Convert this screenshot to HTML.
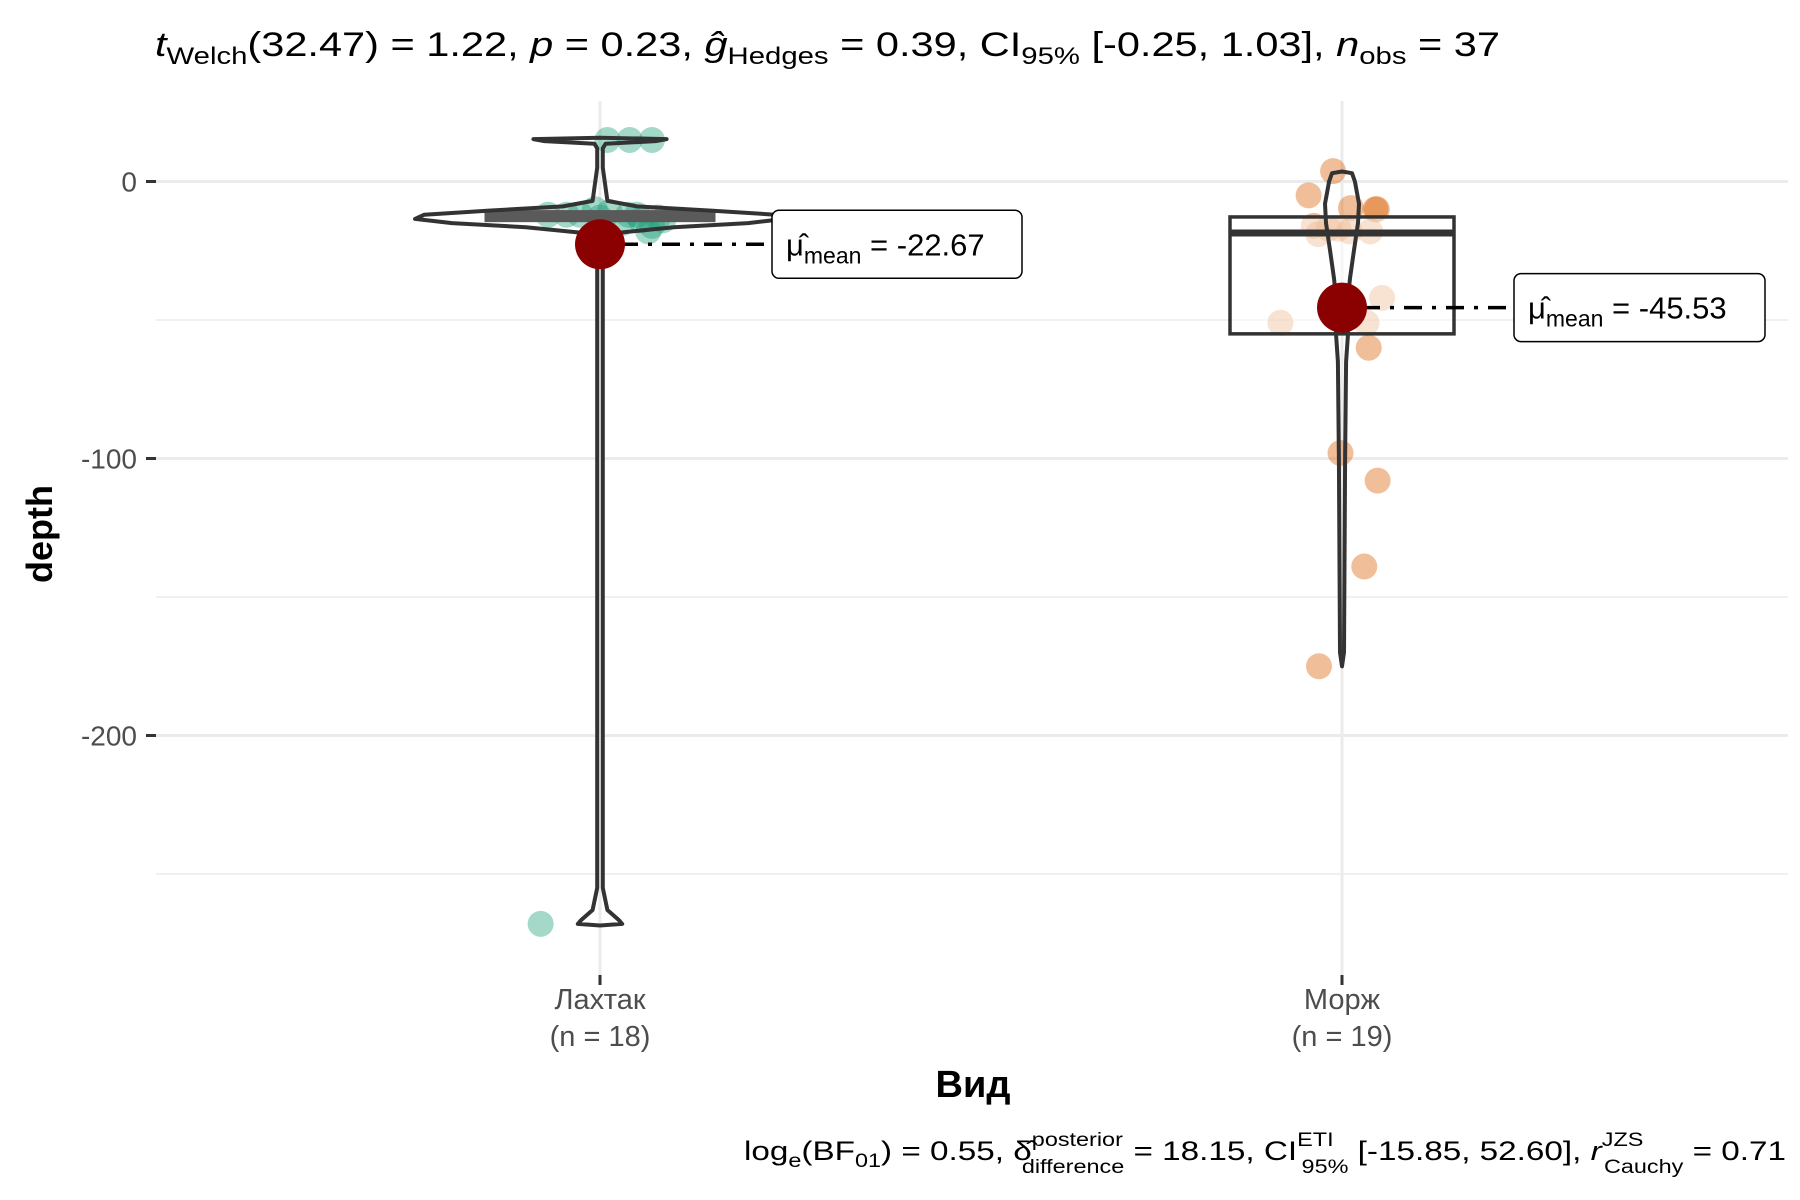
<!DOCTYPE html>
<html><head><meta charset="utf-8">
<style>
html,body{margin:0;padding:0;background:#fff;}
svg{display:block;font-family:"Liberation Sans",Arial,sans-serif;}
</style></head>
<body>
<svg id="chart" width="1800" height="1200" viewBox="0 0 1800 1200" xmlns="http://www.w3.org/2000/svg">
<rect width="1800" height="1200" fill="#fff"/>
<g id="grid"></g>
<g id="points"></g>
<g id="boxes"></g>
<g id="violins"></g>
<g id="means"></g>
<g id="axes"></g>

<text x="155" y="56" font-size="34" fill="#000" textLength="1345" lengthAdjust="spacingAndGlyphs"><tspan font-style="italic">t</tspan><tspan font-size="24" dy="8">Welch</tspan><tspan dy="-8">(32.47) = 1.22, </tspan><tspan font-style="italic">p</tspan><tspan> = 0.23, </tspan><tspan font-style="italic">ĝ</tspan><tspan font-size="24" dy="8">Hedges</tspan><tspan dy="-8"> = 0.39, CI</tspan><tspan font-size="24" dy="8">95%</tspan><tspan dy="-8"> [-0.25, 1.03], </tspan><tspan font-style="italic">n</tspan><tspan font-size="24" dy="8">obs</tspan><tspan dy="-8"> = 37</tspan></text>

<text transform="translate(52,534) rotate(-90)" text-anchor="middle" font-size="36" font-weight="bold" fill="#000">depth</text>
<text x="973" y="1097" text-anchor="middle" font-size="38" font-weight="bold" fill="#000">Вид</text>

<text x="1786" y="1160" text-anchor="end" font-size="27" fill="#000" textLength="1042" lengthAdjust="spacingAndGlyphs"><tspan>log</tspan><tspan font-size="19" dy="7">e</tspan><tspan dy="-7">(BF</tspan><tspan font-size="19" dy="7">01</tspan><tspan dy="-7">) = 0.55, δ̂</tspan><tspan font-size="19" dy="-14">posterior</tspan><tspan font-size="19" dx="-82" dy="27">difference</tspan><tspan dy="-13"> = 18.15, CI</tspan><tspan font-size="19" dy="-14">ETI</tspan><tspan font-size="19" dx="-26" dy="27">95%</tspan><tspan dy="-13"> [-15.85, 52.60], </tspan><tspan font-style="italic">r</tspan><tspan font-size="19" dy="-14">JZS</tspan><tspan font-size="19" dx="-32" dy="27">Cauchy</tspan><tspan dy="-13"> = 0.71</tspan></text>

<script>
// ---- data ----
const categories = ["Лахтак", "Морж"];
const groupCounts = [18, 19];
const yTicks = [0, -100, -200];
const yTickLabels = ["0", "-100", "-200"];
const yMinorTicks = [-50, -150, -250];
const lakhtakValues = [15, 15, 15, -268, -12, -12, -10, -11, -12, -12, -13, -14, -18, -16, -13, -12, -15, -14];
const lakhtakJitter = [0.01, 0.04, 0.07, -0.08, -0.07, -0.045, -0.007, 0.013, 0.038, 0.05, 0.078, 0.085, 0.065, 0.07, 0.0, -0.027, 0.03, 0.055];
const morzhValues = [3.75, -5, -9.6, -10, -10, -16, -19, -17, -18, -18, -42, -51, -51, -60, -98, -108, -139, -175, -17];
const morzhJitter = [-0.012, -0.045, 0.012, 0.045, 0.047, -0.038, -0.032, -0.018, 0.038, 0.01, 0.054, -0.083, 0.033, 0.036, -0.002, 0.048, 0.03, -0.031, -0.005];
const means = [-22.67, -45.53];
const meanLabels = ["-22.67", "-45.53"];
const boxQ1 = [-14.5, -55];
const boxMedian = [-12.5, -18.6];
const boxQ3 = [-10.5, -12.8];
const lakhtakViolinDepth = [15.8, 15.3, 14.6, 13.6, 12, 5, -7, -9, -10.5, -12, -13.5, -15, -16.5, -18.5, -22, -30, -255, -263, -266.5, -268, -268.6];
const lakhtakViolinDensity = [0, 0.36, 0.3, 0.03, 0.015, 0.015, 0.04, 0.2, 0.6, 0.95, 1.0, 0.8, 0.4, 0.1, 0.03, 0.015, 0.015, 0.04, 0.1, 0.12, 0];
const morzhViolinDepth = [3.6, 3, 0, -8, -15, -25, -35, -45, -55, -65, -100, -170, -175];
const morzhViolinDensity = [0, 0.59, 0.76, 1.0, 0.94, 0.7, 0.47, 0.3, 0.35, 0.24, 0.18, 0.12, 0];

// ---- scales ----
const panelL = 156, panelR = 1788, panelT = 101, panelB = 975;
const xCenters = [600, 1342];
const catSpacing = xCenters[1] - xCenters[0];
function y(v){ return 181.5 - v * 2.77; }
function x(i, j){ return xCenters[i] + (j || 0) * catSpacing; }

const NS = "http://www.w3.org/2000/svg";
function mk(tag, attrs, parent){
  const e = document.createElementNS(NS, tag);
  for (const k in attrs) e.setAttribute(k, attrs[k]);
  parent.appendChild(e);
  return e;
}
const grid = document.getElementById('grid');
const pts = document.getElementById('points');
const boxes = document.getElementById('boxes');
const vio = document.getElementById('violins');
const meansG = document.getElementById('means');
const axes = document.getElementById('axes');

// grid
yMinorTicks.forEach(v => {
  const l = mk('line', {x1: panelL, x2: panelR, y1: y(v), y2: y(v), stroke: '#ebebeb', 'stroke-width': 1.5}, grid);
  
  
});
yTicks.forEach((v, i) => {
  const l = mk('line', {x1: panelL, x2: panelR, y1: y(v), y2: y(v), stroke: '#ebebeb', 'stroke-width': 3}, grid);
  
  
  const t = mk('line', {x1: 146, x2: 156, y1: y(v), y2: y(v), stroke: '#333', 'stroke-width': 3}, axes);
  
  
  const tx = mk('text', {x: 137, y: y(v) + 10, 'text-anchor': 'end', 'font-size': 28, fill: '#4d4d4d'}, axes);
  tx.textContent = yTickLabels[i];
  
  
});
categories.forEach((c, i) => {
  const l = mk('line', {x1: x(i), x2: x(i), y1: panelT, y2: panelB, stroke: '#ebebeb', 'stroke-width': 3}, grid);
  
  
  const t = mk('line', {x1: x(i), x2: x(i), y1: panelB, y2: panelB + 10, stroke: '#333', 'stroke-width': 3}, axes);
  
  
  const t1 = mk('text', {x: x(i), y: 1009, 'text-anchor': 'middle', 'font-size': 29, fill: '#4d4d4d'}, axes);
  t1.textContent = c;
  
  
  const t2 = mk('text', {x: x(i), y: 1046, 'text-anchor': 'middle', 'font-size': 29, fill: '#4d4d4d'}, axes);
  t2.textContent = '(n = ' + groupCounts[i] + ')';
  
  
});

// points
function drawPoints(vals, jit, gi, color){
  vals.forEach((v, k) => {
    const c = mk('circle', {cx: x(gi, jit[k]), cy: y(v), r: 13, fill: color, 'fill-opacity': 0.4}, pts);
    
    
  });
}
drawPoints(lakhtakValues, lakhtakJitter, 0, '#1B9E77');
drawPoints(morzhValues, morzhJitter, 1, '#D95F02');

// boxes
const boxHalf = [115, 112];
categories.forEach((c, i) => {
  if (i === 0) {
    const r = mk('rect', {x: x(i) - boxHalf[i], y: y(boxQ3[i]), width: boxHalf[i] * 2, height: y(boxQ1[i]) - y(boxQ3[i]), fill: '#5a5a5a', stroke: '#5a5a5a', 'stroke-width': 1}, boxes);
    
    
  } else {
    const r = mk('rect', {x: x(i) - boxHalf[i], y: y(boxQ3[i]), width: boxHalf[i] * 2, height: y(boxQ1[i]) - y(boxQ3[i]), fill: '#fff', 'fill-opacity': 0.55, stroke: '#333', 'stroke-width': 3.5}, boxes);
    
    
    const m = mk('line', {x1: x(i) - boxHalf[i], x2: x(i) + boxHalf[i], y1: y(boxMedian[i]), y2: y(boxMedian[i]), stroke: '#333', 'stroke-width': 7}, boxes);
    
    
  }
});

// violins
function drawViolin(depths, dens, gi, maxHalf, name){
  let right = [], left = [];
  depths.forEach((d, k) => {
    const w = Math.max(dens[k] * maxHalf, dens[k] > 0 ? 1.5 : 0);
    right.push((x(gi) + w).toFixed(1) + ',' + y(d).toFixed(1));
    left.unshift((x(gi) - w).toFixed(1) + ',' + y(d).toFixed(1));
  });
  const p = mk('path', {d: 'M' + right.join(' L') + ' L' + left.join(' L') + 'Z', fill: 'none', stroke: '#333', 'stroke-width': 4, 'stroke-linejoin': 'round'}, vio);
  
  
}
drawViolin(lakhtakViolinDepth, lakhtakViolinDensity, 0, 185, 'violin-lakhtak');
drawViolin(morzhViolinDepth, morzhViolinDensity, 1, 17, 'violin-morzh');

// means
const labelLeft = [772, 1514];
const labelW = [250, 251];
categories.forEach((c, i) => {
  const my = y(means[i]);
  const ln = mk('line', {x1: x(i) + 20, x2: labelLeft[i], y1: my, y2: my, stroke: '#000', 'stroke-width': 3.5, 'stroke-dasharray': '18 10 4 10'}, meansG);
  
  
  const pt = mk('circle', {cx: x(i), cy: my, r: 25, fill: '#8B0000'}, meansG);
  
  
  const bx = mk('rect', {x: labelLeft[i], y: my - 34, width: labelW[i], height: 68, rx: 7, fill: '#fff', stroke: '#000', 'stroke-width': 1.5}, meansG);
  
  
  const t = mk('text', {x: labelLeft[i] + 14, y: my + 11, 'font-size': 31, fill: '#000'}, meansG);
  
  
  const a = document.createElementNS(NS, 'tspan'); a.textContent = 'μ̂'; t.appendChild(a);
  const b = document.createElementNS(NS, 'tspan'); b.setAttribute('font-size', '23'); b.setAttribute('dy', '8'); b.textContent = 'mean'; t.appendChild(b);
  const d = document.createElementNS(NS, 'tspan'); d.setAttribute('dy', '-8'); d.textContent = ' = ' + meanLabels[i]; t.appendChild(d);
});
</script>
</svg>
</body></html>
